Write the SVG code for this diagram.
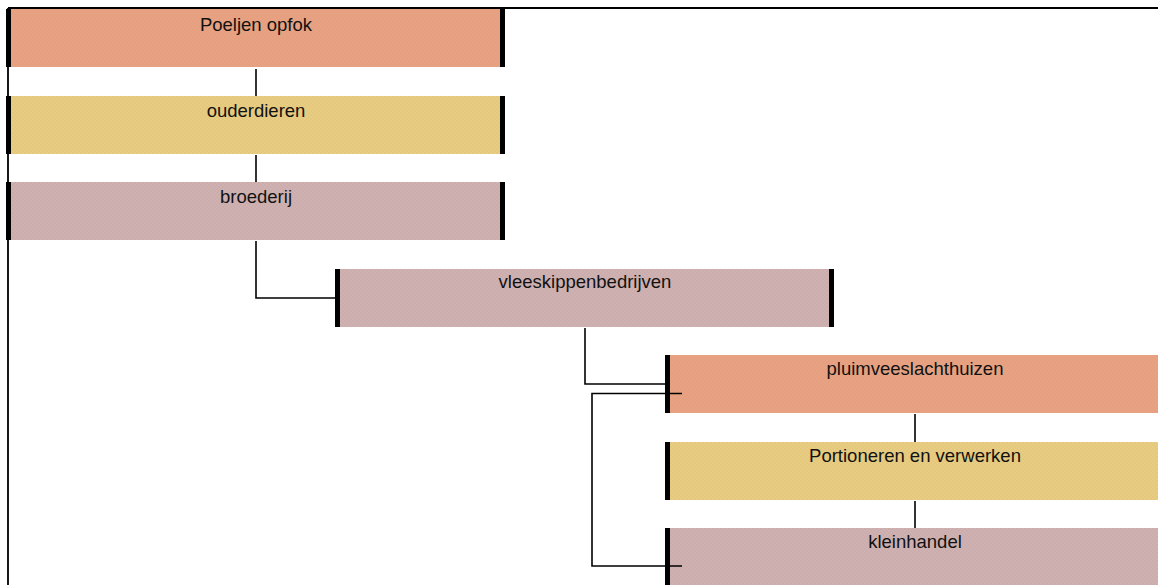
<svg xmlns="http://www.w3.org/2000/svg" width="1158" height="585" viewBox="0 0 1158 585">
<defs>
<pattern id="pS" width="4" height="4" patternUnits="userSpaceOnUse"><rect width="4" height="4" fill="#E8A282"/><rect width="2" height="2" fill="#E4A080"/><rect x="2" y="2" width="2" height="2" fill="#E4A080"/></pattern>
<pattern id="pY" width="4" height="4" patternUnits="userSpaceOnUse"><rect width="4" height="4" fill="#E7CC82"/><rect width="2" height="2" fill="#E3C87E"/><rect x="2" y="2" width="2" height="2" fill="#E3C87E"/></pattern>
<pattern id="pM" width="4" height="4" patternUnits="userSpaceOnUse"><rect width="4" height="4" fill="#CFB1B1"/><rect width="2" height="2" fill="#CBADAD"/><rect x="2" y="2" width="2" height="2" fill="#CBADAD"/></pattern>
</defs>
<style>
.s{fill:url(#pS)}.y{fill:url(#pY)}.m{fill:url(#pM)}
.bar{fill:#000}
.t{font-family:"Liberation Sans",Arial,sans-serif;font-size:18.5px;fill:#111;text-anchor:middle}
.c{fill:none;stroke:#000;stroke-width:1.6}
</style>
<path d="M8,8 H1158 M8,8 V585" fill="none" stroke="#000" stroke-width="1.8"/>
<g id="n1"><rect class="s" x="8" y="9" width="496" height="58"/><rect class="bar" x="6" y="9" width="5" height="58"/><rect class="bar" x="500" y="9" width="5" height="58"/><text class="t" x="256" y="30.5">Poeljen opfok</text></g>
<g id="n2"><rect class="y" x="8" y="96" width="496" height="58"/><rect class="bar" x="6" y="96" width="5" height="58"/><rect class="bar" x="500" y="96" width="5" height="58"/><text class="t" x="256" y="117">ouderdieren</text></g>
<g id="n3"><rect class="m" x="8" y="182" width="496" height="58"/><rect class="bar" x="6" y="182" width="5" height="58"/><rect class="bar" x="500" y="182" width="5" height="58"/><text class="t" x="256" y="203">broederij</text></g>
<g id="n4"><rect class="m" x="336" y="269" width="498" height="58"/><rect class="bar" x="335" y="269" width="5" height="58"/><rect class="bar" x="829" y="269" width="5" height="58"/><text class="t" x="585" y="288">vleeskippenbedrijven</text></g>
<g id="n5"><rect class="s" x="666" y="355" width="500" height="58"/><rect class="bar" x="665" y="355" width="5" height="58"/><text class="t" x="915" y="375">pluimveeslachthuizen</text></g>
<g id="n6"><rect class="y" x="666" y="442" width="500" height="58"/><rect class="bar" x="665" y="442" width="5" height="58"/><text class="t" x="915" y="462">Portioneren en verwerken</text></g>
<g id="n7"><rect class="m" x="666" y="528" width="500" height="58"/><rect class="bar" x="665" y="528" width="5" height="58"/><text class="t" x="915" y="548">kleinhandel</text></g>
<g id="connectors">
<path class="c" d="M256,69 V96"/>
<path class="c" d="M256,155 V182"/>
<path class="c" d="M256,241 V298 H336"/>
<path class="c" d="M585,328 V384 H666"/>
<path class="c" d="M682,393.5 H592 V566 H682"/>
<path class="c" d="M915,414 V442"/>
<path class="c" d="M915,501 V528"/>
</g>
</svg>
